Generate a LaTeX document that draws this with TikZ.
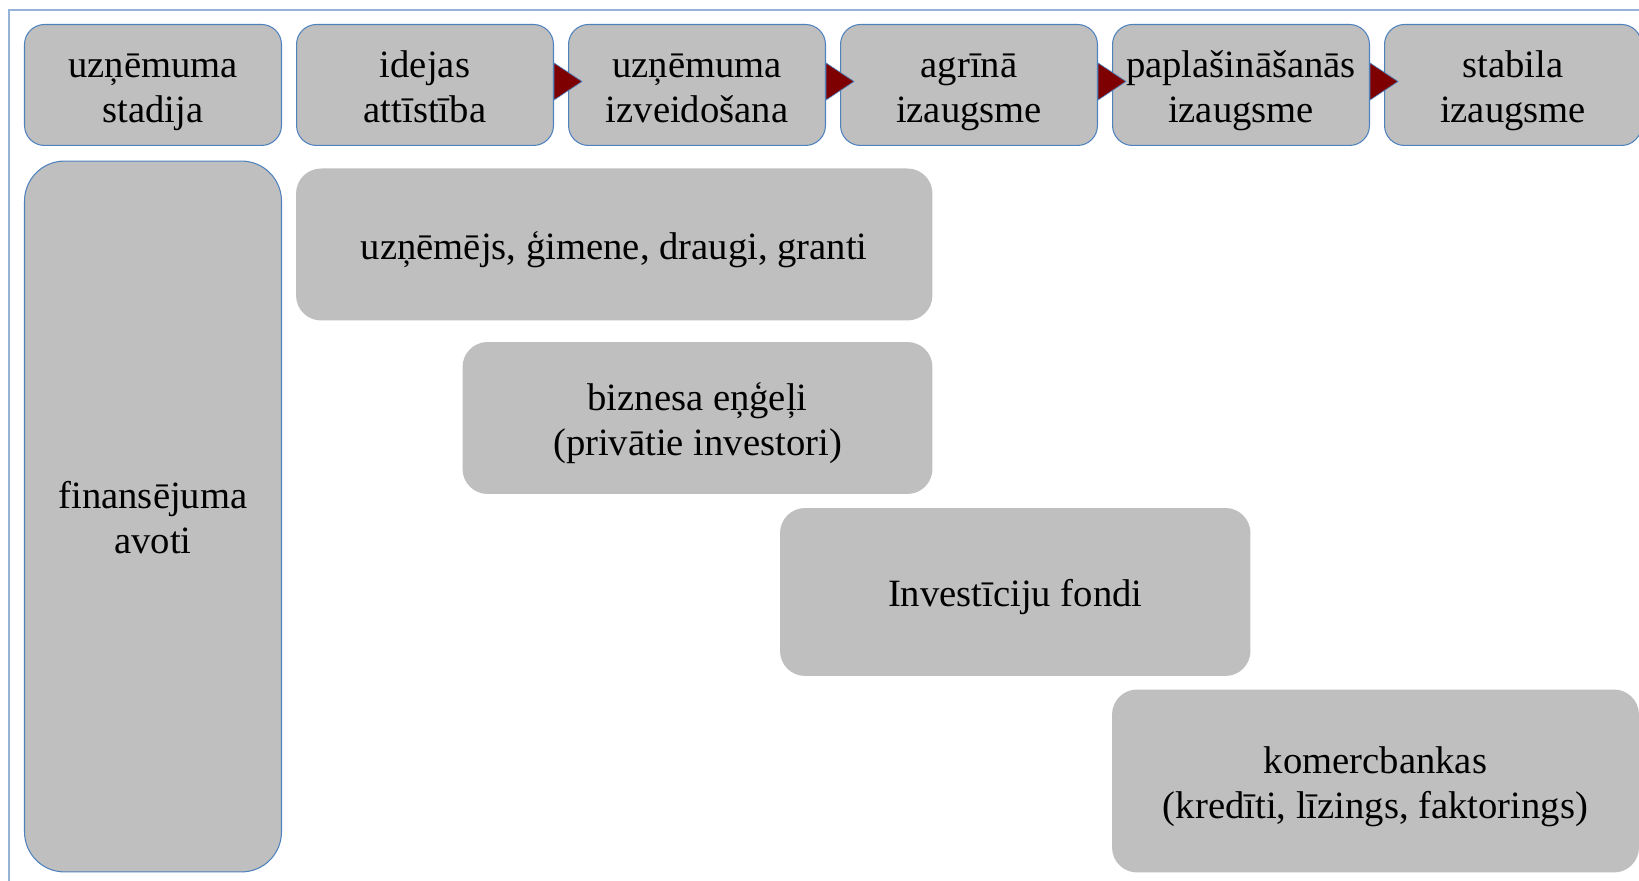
\documentclass[tikz,border=0pt]{standalone}
\usepackage{fontspec}
\setmainfont{Liberation Serif}
\usetikzlibrary{calc}
\definecolor{boxgray}{RGB}{191,191,191}
\definecolor{boxblue}{RGB}{79,129,189}
\definecolor{frameblue}{RGB}{149,179,215}
\definecolor{arrowred}{RGB}{127,0,0}

\begin{document}
\begin{tikzpicture}[x=0.02cm, y=0.02cm, font=\fontsize{22}{25.6}\selectfont,
  every node/.style={execute at begin node={\rule{0pt}{21.6pt}}, execute at end node={\rule[-5pt]{0pt}{5pt}}},
  twoline/.style={execute at begin node={\rule{0pt}{47.6pt}}},
  stage/.style={draw=boxblue, line width=0.6pt, fill=boxgray, rounded corners=0.4cm,
    minimum width=5.14cm, minimum height=2.42cm, inner sep=0pt, align=center, twoline},
  source/.style={fill=boxgray, rounded corners=0.5cm, inner sep=0pt, align=center},
  pointer/.style={fill=arrowred, draw=boxblue, line width=0.4pt}]
\useasboundingbox (0,0) rectangle (1639,881);
\draw[frameblue, line width=1pt] (9.3,0) -- (9.3,871) -- (1639,871);
% stages
\node[stage] (s1) at (153,796) {uzņēmuma\\stadija};
\node[stage] (s2) at (425,796) {idejas\\attīstība};
\node[stage] (s3) at (697,796) {uzņēmuma\\izveidošana};
\node[stage] (s4) at (969,796) {agrīnā\\izaugsme};
\node[stage] (s5) at (1241,796) {paplašināšanās\\izaugsme};
\node[stage] (s6) at (1513,796) {stabila\\izaugsme};
\node[stage, rounded corners=0.8cm, minimum height=14.22cm] (fin) at (153,364.5) {finansējuma\\avoti};
% sources
\node[source, minimum width=12.73cm, minimum height=3.04cm] (b1) at (614.25,636.5) {uzņēmējs, ģimene, draugi, granti};
\node[source, twoline, minimum width=9.4cm, minimum height=3.04cm] (b2) at (697.5,463) {biznesa eņģeļi\\(privātie investori)};
\node[source, minimum width=9.41cm, minimum height=3.36cm] (b3) at (1015.25,289) {Investīciju fondi};
\node[source, twoline, minimum width=10.54cm, minimum height=3.66cm] (b4) at (1375.5,100) {komercbankas\\(kredīti, līzings, faktorings)};
% arrows between stages
\foreach \a/\b in {s2/s3, s3/s4, s4/s5, s5/s6}
  \filldraw[pointer] ($(\a.east)+(0,22)$) -- ($(\a.east)+(0,-15)$) -- ($(\b.west)+(14,3.5)$) -- cycle;
\end{tikzpicture}
\end{document}
